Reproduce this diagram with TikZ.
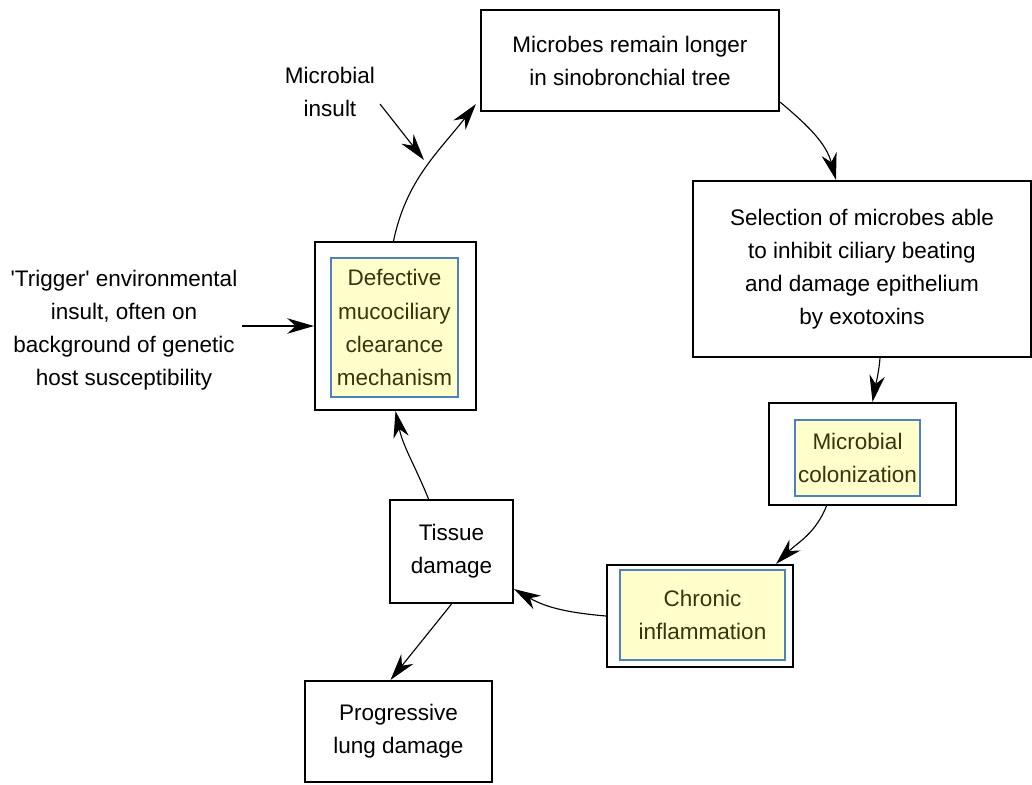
\documentclass[tikz,border=0pt]{standalone}
\usepackage{fontspec}
\setmainfont{Liberation Sans}
\usepackage{tikz}
\usetikzlibrary{arrows.meta,positioning,calc}
\definecolor{paleyellow}{HTML}{FFFFCC}
\definecolor{boxblue}{HTML}{4F81BD}
\definecolor{olivetext}{HTML}{35350F}

\begin{document}
\begin{tikzpicture}[
  x=0.025cm, y=-0.025cm,
  font=\fontsize{16}{23.5}\selectfont,
  box/.style={draw, line width=1.5pt, align=center, inner sep=0pt},
  hilite/.style={draw=boxblue, line width=1.2pt, fill=paleyellow, text=olivetext,
    align=center, inner sep=0pt},
  arr/.style={-{Stealth[length=19pt,width=11pt,inset=6pt]}, line width=0.8pt}
]
\useasboundingbox (0,0) rectangle (1032,784);

% the cycle
\node[box, minimum width=7.45cm, minimum height=2.525cm] (remain) at (630,60.5)
  {Microbes remain longer\\in sinobronchial tree};
\node[box, minimum width=8.45cm, minimum height=4.4cm] (select) at (862,269)
  {Selection of microbes able\\to inhibit ciliary beating\\and damage epithelium\\by exotoxins};
\node[box, minimum width=4.675cm, minimum height=2.55cm] (colon) at (862.5,454) {};
\node[hilite, minimum width=3.125cm, minimum height=1.9cm] (colonin) at (857.5,458)
  {Microbial\\colonization};
\node[box, minimum width=4.65cm, minimum height=2.55cm] (chronic) at (700,616) {};
\node[hilite, minimum width=4.125cm, minimum height=2.25cm] (chronicin) at (702.5,615)
  {Chronic\\inflammation};
\node[box, minimum width=3.075cm, minimum height=2.575cm] (tissue) at (451.5,551.5)
  {Tissue\\damage};
\node[box, minimum width=4.675cm, minimum height=2.525cm] (lung) at (398.5,731.5)
  {Progressive\\lung damage};
\node[box, minimum width=4.025cm, minimum height=4.2cm] (defect) at (395.5,326) {};
\node[hilite, minimum width=3.175cm, minimum height=3.475cm] (defectin) at (394.5,327.5)
  {Defective\\mucociliary\\clearance\\mechanism};

% outside influences
\node[align=center] (insult) at (330,92) {Microbial\\insult};
\node[align=center] (trigger) at (124,330)
  {\textquotesingle Trigger\textquotesingle\ environmental\\insult, often on\\background of genetic\\host susceptibility};
\coordinate (hit) at (424,160);

\draw[arr] ([xshift=-0.05cm]defect.north) to[out=78, in=232] ([xshift=-0.1cm,yshift=0.2cm]remain.south west);
\draw[arr] ([yshift=0.25cm]remain.south east) to[out=-40, in=105] ([xshift=-0.65cm]select.north);
\draw[arr] ([xshift=0.45cm]select.south) to[out=-95, in=80] ([xshift=0.25cm]colon.north);
\draw[arr] ([xshift=-0.9cm]colon.south) to[out=-112, in=45] ([xshift=-0.45cm]chronic.north east);
\draw[arr] (chronic.west) to[out=175, in=-30] ([yshift=0.375cm]tissue.south east);
\draw[arr] ([xshift=-0.575cm]tissue.north) to[out=112, in=-78] (defect.south);
\draw[arr] (tissue.south) -- ([xshift=-0.2cm]lung.north);
\draw[arr] ($(insult.east)+(0,12)$) -- (hit);
\draw[arr] (trigger.east |- defect.west) -- (defect.west);
\end{tikzpicture}
\end{document}
